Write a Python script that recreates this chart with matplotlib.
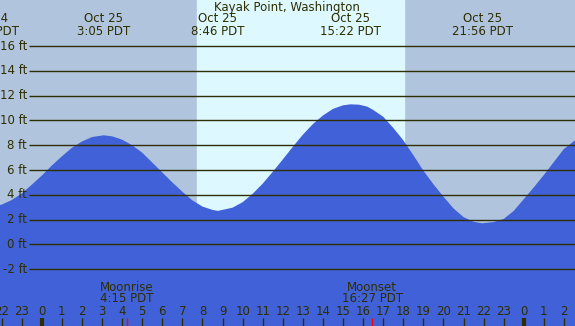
import numpy as np
from matplotlib import pyplot as plt

# tide height (ft), hours since midnight Oct 25
hours = [-2.67, -2, -1.5, -1, -0.5, 0, 0.5, 1, 1.5, 2, 2.5, 3.08,
         3.5, 4, 4.5, 5, 5.5, 6, 6.5, 7, 7.5, 8, 8.5, 8.77,
         9.5, 10, 10.5, 11, 11.5, 12, 12.5, 13, 13.5, 14, 14.5, 15, 15.37,
         15.8, 16.2, 16.5, 17, 17.5, 18, 18.5, 19, 19.5, 20, 20.5, 21, 21.5, 21.93,
         22.5, 23, 23.5, 24, 24.5, 25, 25.5, 26, 26.6]
tide = [3.0, 3.2, 3.57, 4.1, 4.81, 5.55, 6.36, 7.1, 7.79, 8.3, 8.66, 8.8,
        8.72, 8.45, 8.0, 7.4, 6.6, 5.8, 5.0, 4.25, 3.55, 3.05, 2.78, 2.7,
        2.96, 3.4, 4.08, 4.9, 5.85, 6.85, 7.87, 8.85, 9.71, 10.4, 10.93, 11.22, 11.3,
        11.27, 11.12, 10.85, 10.3, 9.4, 8.4, 7.2, 5.95, 4.85, 3.85, 2.9, 2.2, 1.82, 1.7,
        1.8, 2.05, 2.7, 3.65, 4.6, 5.6, 6.65, 7.7, 8.45]

# highs / lows shown at the top
ext_hours = [-2.67, 3.08, 8.77, 15.37, 21.93]
ext_dates = ["Oct 24", "Oct 25", "Oct 25", "Oct 25", "Oct 25"]
ext_times = ["21:20 PDT", "3:05 PDT", "8:46 PDT", "15:22 PDT", "21:56 PDT"]

sunrise, sunset = 7.73, 18.03

moon_hours = [4.25, 16.45]
moon_names = ["Moonrise", "Moonset"]
moon_times = ["4:15 PDT", "16:27 PDT"]

levels = [16, 14, 12, 10, 8, 6, 4, 2, 0, -2]
hour_ticks = list(range(-2, 27))

night = '#b0c4de'
day = '#ddf8ff'
water = '#4161d9'
ink = '#2e2e00'

fig = plt.figure(figsize=(5.75, 3.26), dpi=100)
ax = fig.add_axes([0, 0, 1, 1])
ax.set_xlim(-2.08, 26.55)
ax.set_ylim(-6.59, 19.72)
ax.axis('off')
ax.axvspan(-5, 30, color=night, zorder=0)
ax.axvspan(sunrise, sunset, color=day, zorder=0)

ax.fill_between(hours, tide, -10, color=water, lw=0, zorder=1)

fs = 8.5
ax.hlines(levels, -0.63, 30, color=ink, lw=1, zorder=2)
for lv in levels:
    ax.text(-0.73, lv, f"{lv} ft", ha='right', va='center', fontsize=fs, color=ink, zorder=3)

ax.text(12.2, 19.15, "Kayak Point, Washington", ha='center', va='center', fontsize=fs, color=ink)
for h, d, t in zip(ext_hours, ext_dates, ext_times):
    ax.text(h, 18.2, d, ha='center', va='center', fontsize=fs, color=ink)
    ax.text(h, 17.2, t, ha='center', va='center', fontsize=fs, color=ink)

for h in hour_ticks:
    ax.text(h, -5.45, str(h % 24), ha='center', va='center', fontsize=fs, color=ink)
    ax.vlines(h, -7, -5.95, color=ink, lw=3 if h % 24 == 0 else 1, zorder=3)

for h, n, t in zip(moon_hours, moon_names, moon_times):
    ax.text(h, -3.45, n, ha='center', va='center', fontsize=fs, color=ink)
    ax.text(h, -4.4, t, ha='center', va='center', fontsize=fs, color=ink)
    ax.vlines(h, -7, -5.95, color='red', lw=1, zorder=4)

fig.savefig('out.png', dpi=100)
